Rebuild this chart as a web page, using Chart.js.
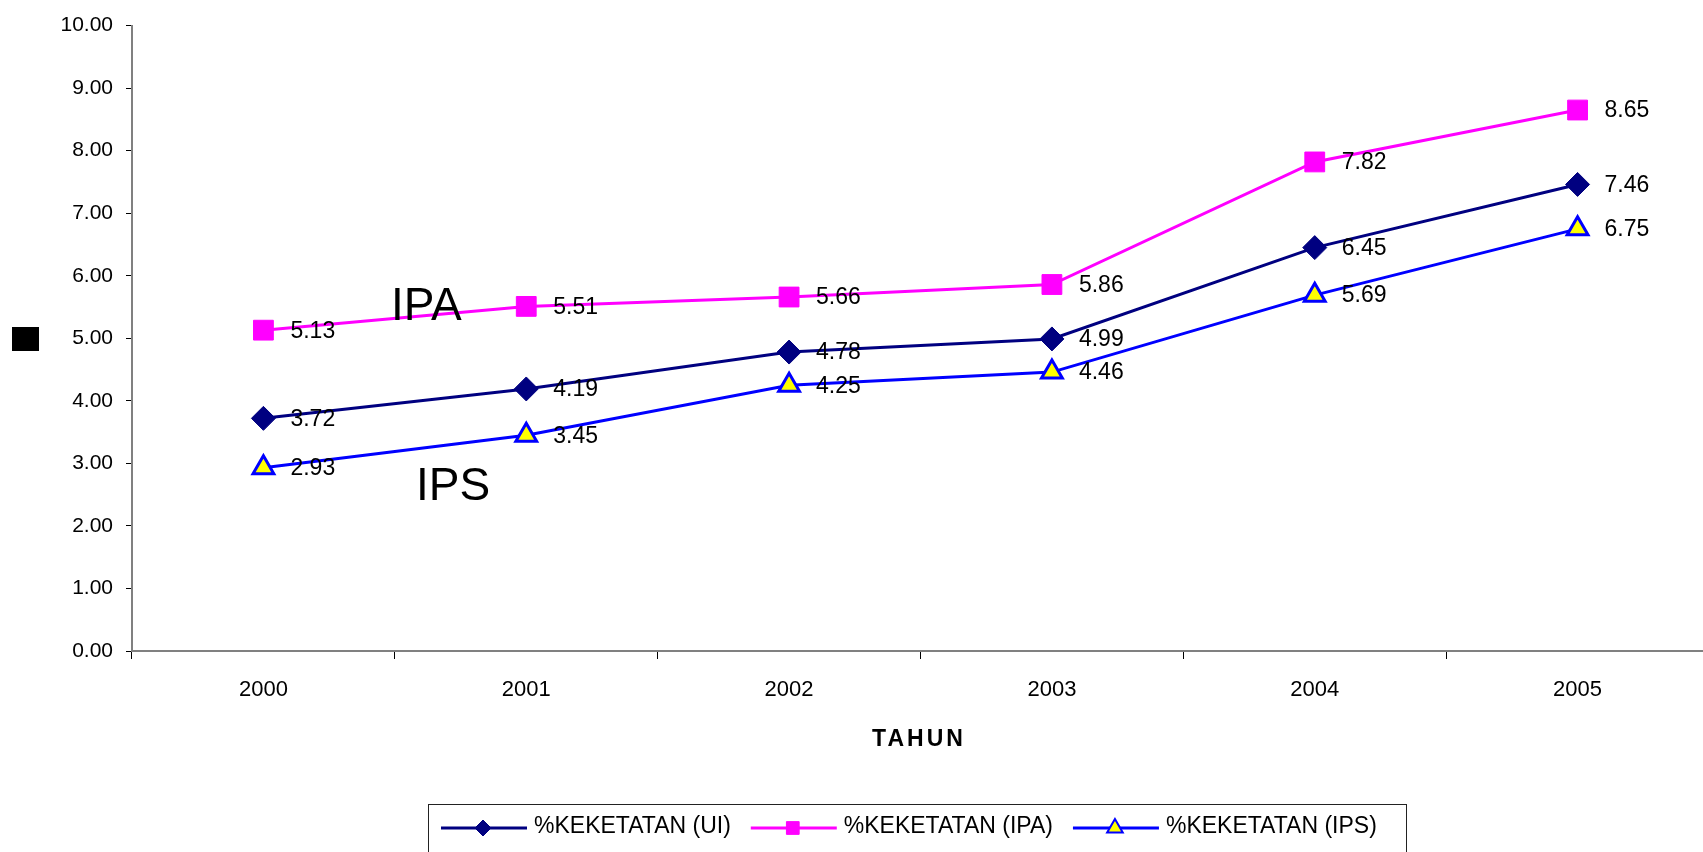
<!DOCTYPE html>
<html>
<head>
<meta charset="utf-8">
<title>%KEKETATAN UI 2000-2005</title>
<script src="https://cdn.jsdelivr.net/npm/chart.js@4.4.0/dist/chart.umd.min.js"></script>
<style>
  html, body { margin: 0; padding: 0; background: #fff; overflow: hidden; }
  #wrap { width: 1709px; height: 852px; }
</style>
</head>
<body>
<div id="wrap"><canvas id="chart" width="1709" height="852"></canvas></div>
<script>
// data
const years = ['2000', '2001', '2002', '2003', '2004', '2005'];
const seriesNames = ['%KEKETATAN (UI)', '%KEKETATAN (IPA)', '%KEKETATAN (IPS)'];
const keketatanUI = [3.72, 4.19, 4.78, 4.99, 6.45, 7.46];
const keketatanIPA = [5.13, 5.51, 5.66, 5.86, 7.82, 8.65];
const keketatanIPS = [2.93, 3.45, 4.25, 4.46, 5.69, 6.75];
const yMin = 0, yMax = 10, yStep = 1;
const xTitle = 'TAHUN';

const FONT = '"Liberation Sans", Arial, sans-serif';

// value labels to the right of each point
const valueLabels = {
  id: 'valueLabels',
  afterDatasetsDraw(chart) {
    const ctx = chart.ctx;
    ctx.save();
    ctx.font = '23px ' + FONT;
    ctx.fillStyle = '#000';
    ctx.textAlign = 'left';
    ctx.textBaseline = 'middle';
    chart.data.datasets.forEach((ds, i) => {
      chart.getDatasetMeta(i).data.forEach((pt, j) => {
        ctx.fillText(ds.data[j].toFixed(2), pt.x + 27, pt.y + 1);
      });
    });
    ctx.restore();
  }
};

function marker(ctx, ds, radius, bw, x, y) {
  ctx.fillStyle = ds.pointBackgroundColor;
  ctx.strokeStyle = ds.pointBorderColor;
  ctx.lineWidth = bw;
  Chart.helpers.drawPoint(ctx, { pointStyle: ds.pointStyle, radius: radius, borderWidth: bw, rotation: 0 }, x, y);
}

// annotations, axis title and the boxed legend
const extras = {
  id: 'extras',
  afterDraw(chart) {
    const ctx = chart.ctx;
    ctx.save();

    // big labels next to the lines
    ctx.fillStyle = '#000';
    ctx.font = '46px ' + FONT;
    ctx.textAlign = 'left';
    ctx.textBaseline = 'alphabetic';
    ctx.fillText('IPA', 391, 320);
    ctx.fillText('IPS', 416, 500);

    // y-axis title box
    ctx.fillRect(12, 327, 27, 24);

    // x-axis title
    ctx.font = 'bold 23px ' + FONT;
    ctx.letterSpacing = '3px';
    ctx.textAlign = 'center';
    ctx.textBaseline = 'middle';
    ctx.fillText(xTitle, 919, 740);
    ctx.letterSpacing = '0px';

    // legend
    ctx.strokeStyle = '#222';
    ctx.lineWidth = 1;
    ctx.strokeRect(428.5, 804.5, 978, 100);
    ctx.font = '23px ' + FONT;
    ctx.textAlign = 'left';
    let x = 441;
    const ly = 828;
    chart.data.datasets.forEach((ds, i) => {
      ctx.strokeStyle = ds.borderColor;
      ctx.lineWidth = 3;
      ctx.beginPath();
      ctx.moveTo(x, ly);
      ctx.lineTo(x + 86, ly);
      ctx.stroke();
      const r = ds.pointStyle === 'rect' ? 9 : (ds.pointStyle === 'triangle' ? 9 : 8);
      marker(ctx, ds, r, ds.pointStyle === 'triangle' ? 2 : 1, x + 42, ly);
      ctx.fillStyle = '#000';
      ctx.textBaseline = 'middle';
      ctx.fillText(ds.label, x + 93, ly - 1);
      x = x + 93 + ctx.measureText(ds.label).width + 20;
    });
    ctx.restore();
  }
};

new Chart(document.getElementById('chart'), {
  type: 'line',
  data: {
    labels: years,
    datasets: [
      {
        label: seriesNames[0],
        data: keketatanUI,
        borderColor: '#000080',
        borderWidth: 3,
        pointStyle: 'rectRot',
        pointRadius: 12,
        pointBackgroundColor: '#000080',
        pointBorderColor: '#000080',
        pointBorderWidth: 1
      },
      {
        label: seriesNames[1],
        data: keketatanIPA,
        borderColor: '#FF00FF',
        borderWidth: 3,
        pointStyle: 'rect',
        pointRadius: 14,
        pointBackgroundColor: '#FF00FF',
        pointBorderColor: '#FF00FF',
        pointBorderWidth: 1
      },
      {
        label: seriesNames[2],
        data: keketatanIPS,
        borderColor: '#0000FF',
        borderWidth: 3,
        pointStyle: 'triangle',
        pointRadius: 12,
        pointBackgroundColor: '#FFFF00',
        pointBorderColor: '#0000FF',
        pointBorderWidth: 3
      }
    ]
  },
  options: {
    responsive: false,
    animation: false,
    layout: { autoPadding: false, padding: { top: 24, right: 0, bottom: 0, left: 0 } },
    elements: { line: { tension: 0 } },
    plugins: {
      legend: { display: false },
      tooltip: { enabled: false }
    },
    scales: {
      x: {
        offset: true,
        afterFit(scale) {
          scale.height = 201;
          scale.paddingLeft = 0;
          scale.paddingRight = 0;
        },
        grid: { display: true, drawOnChartArea: false, offset: true, tickLength: 8, tickColor: '#000', tickWidth: 1 },
        border: { color: '#808080', width: 2 },
        ticks: { color: '#000', font: { family: FONT, size: 22 }, padding: 18, maxRotation: 0 }
      },
      y: {
        min: yMin,
        max: yMax,
        afterFit(scale) { scale.width = 132; },
        grid: { display: true, drawOnChartArea: false, tickLength: 6, tickColor: '#000', tickWidth: 1 },
        border: { color: '#808080', width: 2 },
        ticks: {
          stepSize: yStep,
          color: '#000',
          font: { family: FONT, size: 21 },
          padding: 13,
          callback: (v) => Number(v).toFixed(2)
        }
      }
    }
  },
  plugins: [valueLabels, extras]
});
</script>
</body>
</html>
